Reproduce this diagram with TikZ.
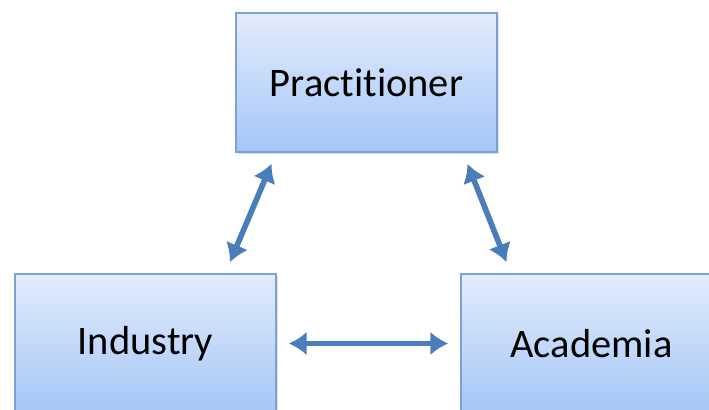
\documentclass[tikz,border=0pt]{standalone}
\usepackage{fontspec}
\setmainfont[Ligatures = NoCommon]{Carlito}
\usetikzlibrary{arrows.meta,calc,shadows}

\definecolor{boxtop}{RGB}{226,236,252}
\definecolor{boxbottom}{RGB}{165,198,246}
\definecolor{boxline}{RGB}{122,162,214}
\definecolor{linkblue}{RGB}{74,126,187}

\begin{document}
\begin{tikzpicture}[
    party/.style = {draw = boxline, line width = 1pt, top color = boxtop, bottom color = boxbottom,
      minimum width = 6.525cm, minimum height = 3.475cm, inner sep = 0pt,
      drop shadow = {opacity = 0.25, shadow xshift = 0.04cm, shadow yshift = -0.05cm},
      font = \fontsize{28.8}{34}\selectfont},
    link/.style = {draw = linkblue, line width = 4pt, {Latex[length = 0.45cm, width = 0.6cm]}-{Latex[length = 0.45cm, width = 0.6cm]},
      shorten < = 0.3cm, shorten > = 0.3cm}
  ]
    \useasboundingbox (0, 0) rectangle (17.725, 10.25);
    \clip (0, 0) rectangle (17.725, 10.25);
    \node[party] (practitioner) at (9.1625, 8.1875) {Practitioner};
    \node[party] (industry) at (3.6375, 1.6625) {Industry};
    \node[party] (academia) at (14.7875, 1.6625) {Academia};
    \draw[link] ($(practitioner.south west)!0.156!(practitioner.south east)$) -- ($(industry.north west)!0.804!(industry.north east)$);
    \draw[link] ($(practitioner.south west)!0.868!(practitioner.south east)$) -- ($(academia.north west)!0.193!(academia.north east)$);
    \draw[link] (industry.east) -- (academia.west);
  \end{tikzpicture}
\end{document}
